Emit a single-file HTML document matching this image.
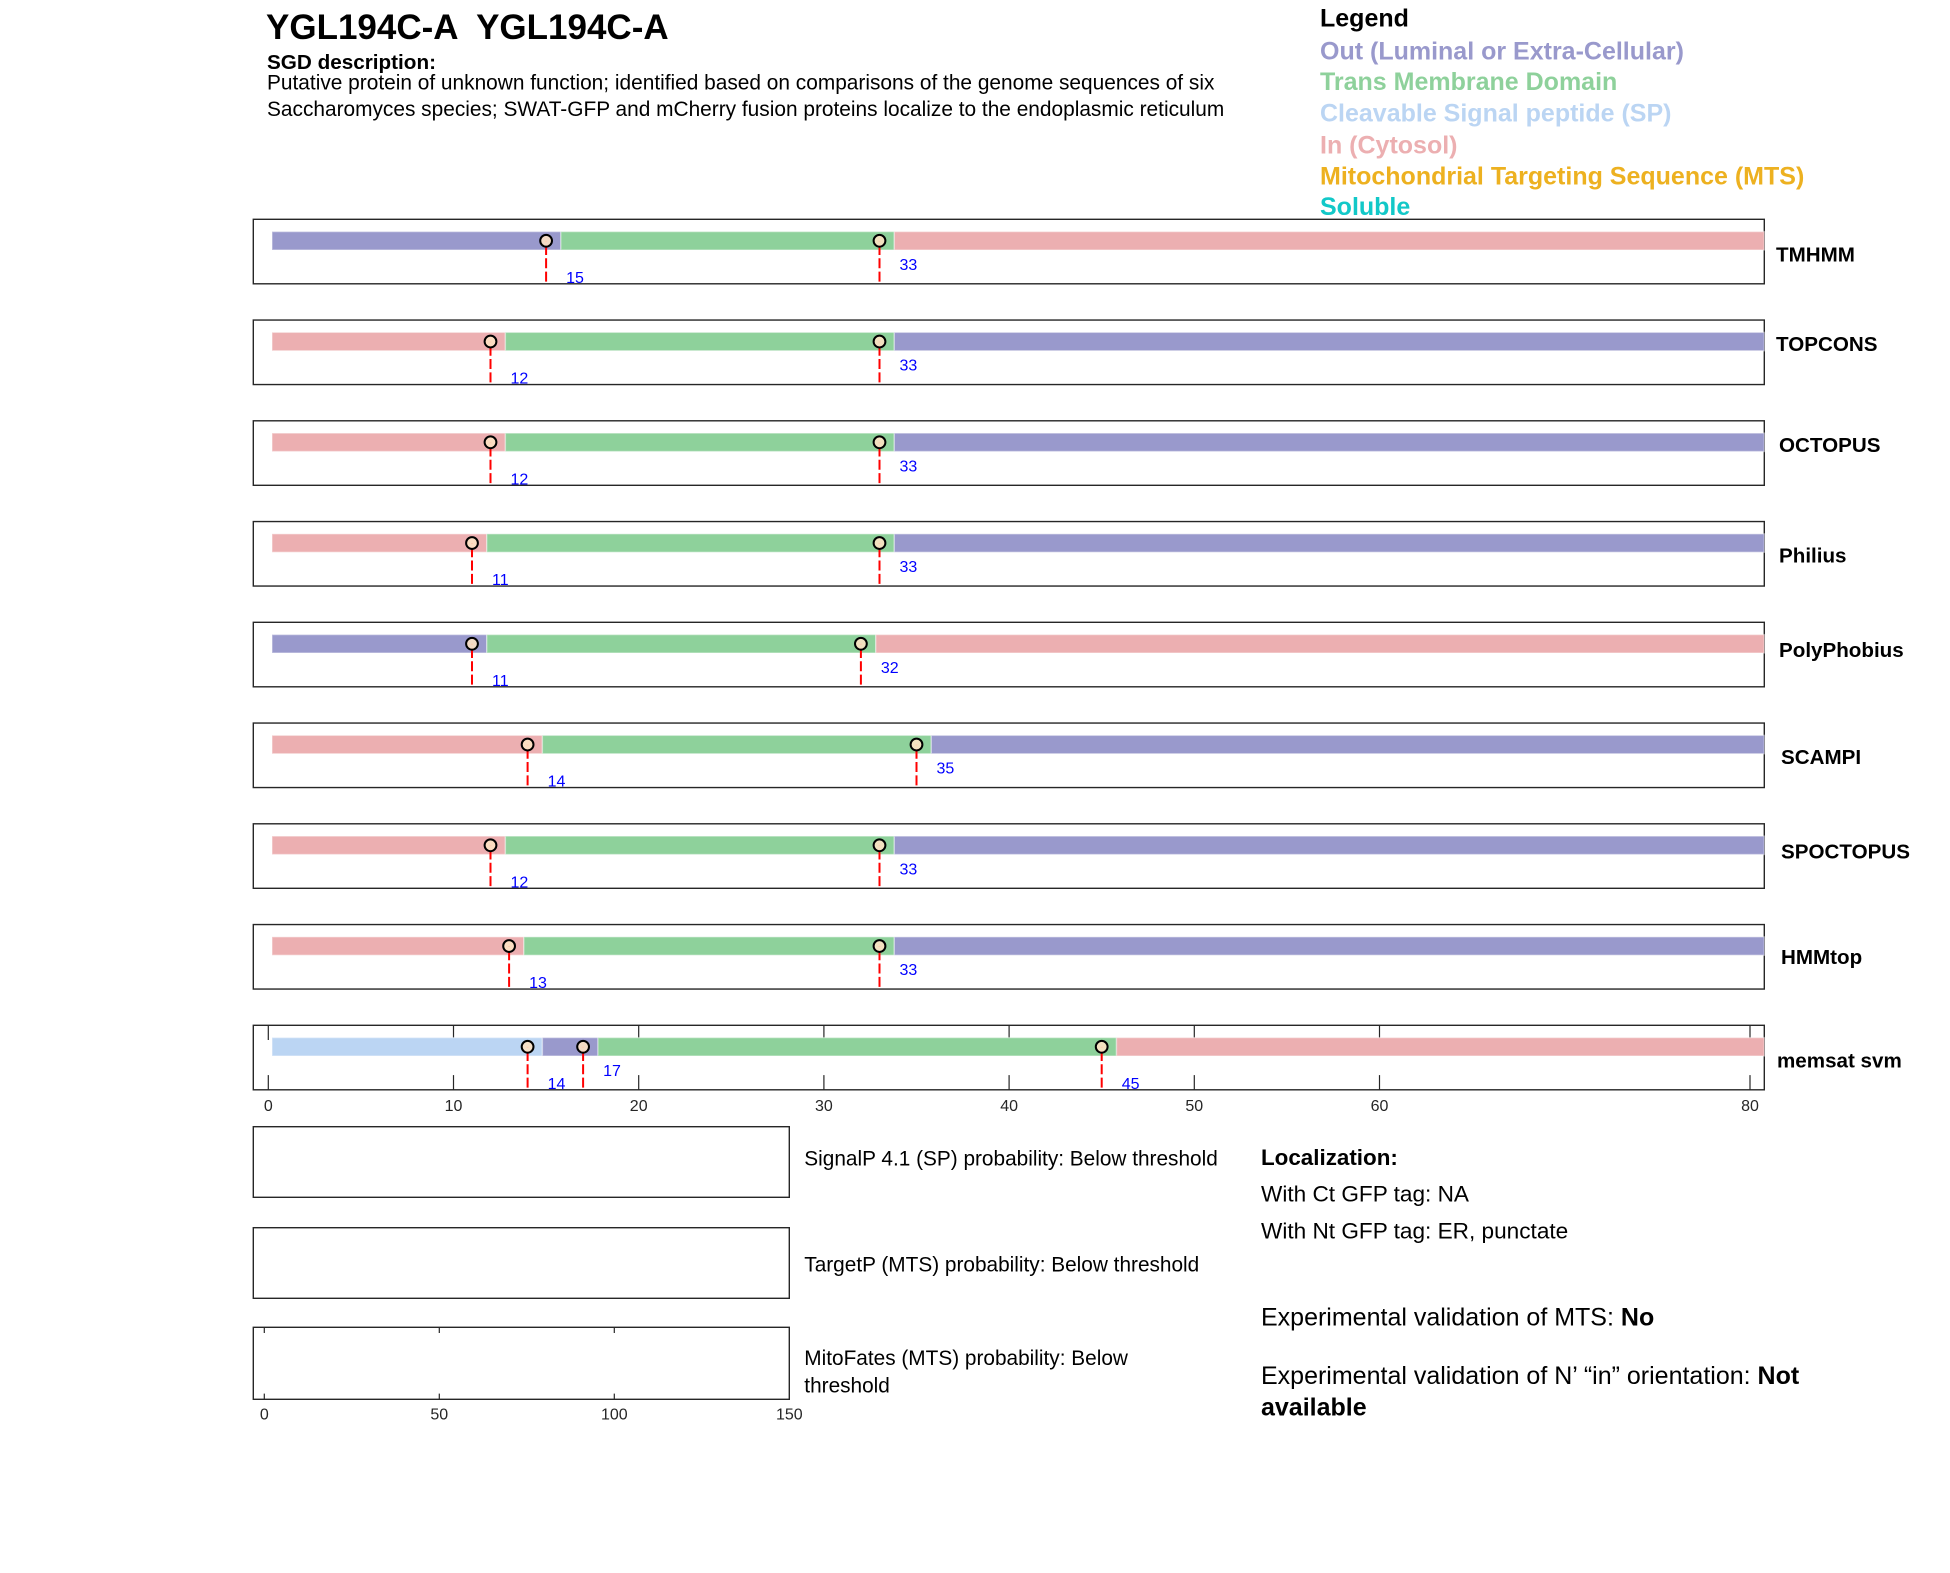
<!DOCTYPE html>
<html>
<head>
<meta charset="utf-8">
<style>
  html, body { margin: 0; padding: 0; background: #ffffff; }
  svg { display: block; }
  text { font-family: "Liberation Sans", Arial, Helvetica, sans-serif; }
</style>
</head>
<body>
<svg xmlns="http://www.w3.org/2000/svg" width="1950" height="1573" viewBox="0 0 1950 1573">
  <rect x="0" y="0" width="1950" height="1573" fill="#ffffff"/>

  <!-- Title and description -->
  <text x="266" y="39" font-size="35" font-weight="bold" fill="#000" xml:space="preserve">YGL194C-A  YGL194C-A</text>
  <text x="267" y="69" font-size="20.7" font-weight="bold" fill="#000">SGD description:</text>
  <text x="267" y="89.3" font-size="20.86" fill="#000">Putative protein of unknown function; identified based on comparisons of the genome sequences of six</text>
  <text x="267" y="116" font-size="20.86" fill="#000">Saccharomyces species; SWAT-GFP and mCherry fusion proteins localize to the endoplasmic reticulum</text>

  <!-- Legend -->
  <g font-size="25" font-weight="bold">
    <text x="1320" y="26.7" fill="#000">Legend</text>
    <text x="1320" y="59.3" fill="#9999cc">Out (Luminal or Extra-Cellular)</text>
    <text x="1320" y="90" fill="#8ed19b">Trans Membrane Domain</text>
    <text x="1320" y="121.7" fill="#bbd5f3">Cleavable Signal peptide (SP)</text>
    <text x="1320" y="153.3" fill="#ecafb1">In (Cytosol)</text>
    <text x="1320" y="184.3" fill="#edb120">Mitochondrial Targeting Sequence (MTS)</text>
    <text x="1320" y="215" fill="#12c8c8">Soluble</text>
  </g>

  <!-- TMHMM T=219.3 -->
  <g transform="translate(0,219.3)">
    <rect x="253.3" y="0" width="1511" height="64.5" fill="#fff" stroke="#262626" stroke-width="1.4"/>
    <g stroke="#ffffff" stroke-opacity="0.4" stroke-width="1.4">
      <rect x="272" y="12.3" width="288.9" height="18.4" fill="#9999cc"/>
      <rect x="560.9" y="12.3" width="333.4" height="18.4" fill="#8ed19b"/>
      <rect x="894.3" y="12.3" width="870" height="18.4" fill="#ecafb1"/>
    </g>
    <g stroke="#ff0000" stroke-width="2" stroke-dasharray="10,3.3" stroke-dashoffset="9.1">
      <line x1="546.1" y1="21.5" x2="546.1" y2="64.5"/>
      <line x1="879.5" y1="21.5" x2="879.5" y2="64.5"/>
    </g>
    <g fill="#fde2c4" fill-opacity="0.9" stroke="#000" stroke-width="2">
      <circle cx="546.1" cy="21.5" r="5.9"/>
      <circle cx="879.5" cy="21.5" r="5.9"/>
    </g>
    <g font-size="16" fill="#0000ff">
      <text x="566.1" y="63.5">15</text>
      <text x="899.5" y="50.5">33</text>
    </g>
    <text x="1776" y="42" font-size="20.6" font-weight="bold" fill="#000">TMHMM</text>
  </g>

  <!-- TOPCONS T=320.05 -->
  <g transform="translate(0,320.05)">
    <rect x="253.3" y="0" width="1511" height="64.5" fill="#fff" stroke="#262626" stroke-width="1.4"/>
    <g stroke="#ffffff" stroke-opacity="0.4" stroke-width="1.4">
      <rect x="272" y="12.3" width="233.4" height="18.4" fill="#ecafb1"/>
      <rect x="505.4" y="12.3" width="388.9" height="18.4" fill="#8ed19b"/>
      <rect x="894.3" y="12.3" width="870" height="18.4" fill="#9999cc"/>
    </g>
    <g stroke="#ff0000" stroke-width="2" stroke-dasharray="10,3.3" stroke-dashoffset="9.1">
      <line x1="490.5" y1="21.5" x2="490.5" y2="64.5"/>
      <line x1="879.5" y1="21.5" x2="879.5" y2="64.5"/>
    </g>
    <g fill="#fde2c4" fill-opacity="0.9" stroke="#000" stroke-width="2">
      <circle cx="490.5" cy="21.5" r="5.9"/>
      <circle cx="879.5" cy="21.5" r="5.9"/>
    </g>
    <g font-size="16" fill="#0000ff">
      <text x="510.5" y="63.5">12</text>
      <text x="899.5" y="50.5">33</text>
    </g>
    <text x="1776" y="31" font-size="20.6" font-weight="bold" fill="#000">TOPCONS</text>
  </g>

  <!-- OCTOPUS T=420.8 -->
  <g transform="translate(0,420.8)">
    <rect x="253.3" y="0" width="1511" height="64.5" fill="#fff" stroke="#262626" stroke-width="1.4"/>
    <g stroke="#ffffff" stroke-opacity="0.4" stroke-width="1.4">
      <rect x="272" y="12.3" width="233.4" height="18.4" fill="#ecafb1"/>
      <rect x="505.4" y="12.3" width="388.9" height="18.4" fill="#8ed19b"/>
      <rect x="894.3" y="12.3" width="870" height="18.4" fill="#9999cc"/>
    </g>
    <g stroke="#ff0000" stroke-width="2" stroke-dasharray="10,3.3" stroke-dashoffset="9.1">
      <line x1="490.5" y1="21.5" x2="490.5" y2="64.5"/>
      <line x1="879.5" y1="21.5" x2="879.5" y2="64.5"/>
    </g>
    <g fill="#fde2c4" fill-opacity="0.9" stroke="#000" stroke-width="2">
      <circle cx="490.5" cy="21.5" r="5.9"/>
      <circle cx="879.5" cy="21.5" r="5.9"/>
    </g>
    <g font-size="16" fill="#0000ff">
      <text x="510.5" y="63.5">12</text>
      <text x="899.5" y="50.5">33</text>
    </g>
    <text x="1779" y="31" font-size="20.6" font-weight="bold" fill="#000">OCTOPUS</text>
  </g>

  <!-- Philius T=521.55 -->
  <g transform="translate(0,521.55)">
    <rect x="253.3" y="0" width="1511" height="64.5" fill="#fff" stroke="#262626" stroke-width="1.4"/>
    <g stroke="#ffffff" stroke-opacity="0.4" stroke-width="1.4">
      <rect x="272" y="12.3" width="214.8" height="18.4" fill="#ecafb1"/>
      <rect x="486.8" y="12.3" width="407.5" height="18.4" fill="#8ed19b"/>
      <rect x="894.3" y="12.3" width="870" height="18.4" fill="#9999cc"/>
    </g>
    <g stroke="#ff0000" stroke-width="2" stroke-dasharray="10,3.3" stroke-dashoffset="9.1">
      <line x1="472" y1="21.5" x2="472" y2="64.5"/>
      <line x1="879.5" y1="21.5" x2="879.5" y2="64.5"/>
    </g>
    <g fill="#fde2c4" fill-opacity="0.9" stroke="#000" stroke-width="2">
      <circle cx="472" cy="21.5" r="5.9"/>
      <circle cx="879.5" cy="21.5" r="5.9"/>
    </g>
    <g font-size="16" fill="#0000ff">
      <text x="492" y="63.5">11</text>
      <text x="899.5" y="50.5">33</text>
    </g>
    <text x="1779" y="41" font-size="20.6" font-weight="bold" fill="#000">Philius</text>
  </g>

  <!-- PolyPhobius T=622.3 -->
  <g transform="translate(0,622.3)">
    <rect x="253.3" y="0" width="1511" height="64.5" fill="#fff" stroke="#262626" stroke-width="1.4"/>
    <g stroke="#ffffff" stroke-opacity="0.4" stroke-width="1.4">
      <rect x="272" y="12.3" width="214.8" height="18.4" fill="#9999cc"/>
      <rect x="486.8" y="12.3" width="389" height="18.4" fill="#8ed19b"/>
      <rect x="875.8" y="12.3" width="888.5" height="18.4" fill="#ecafb1"/>
    </g>
    <g stroke="#ff0000" stroke-width="2" stroke-dasharray="10,3.3" stroke-dashoffset="9.1">
      <line x1="472" y1="21.5" x2="472" y2="64.5"/>
      <line x1="860.9" y1="21.5" x2="860.9" y2="64.5"/>
    </g>
    <g fill="#fde2c4" fill-opacity="0.9" stroke="#000" stroke-width="2">
      <circle cx="472" cy="21.5" r="5.9"/>
      <circle cx="860.9" cy="21.5" r="5.9"/>
    </g>
    <g font-size="16" fill="#0000ff">
      <text x="492" y="63.5">11</text>
      <text x="880.9" y="50.5">32</text>
    </g>
    <text x="1779" y="34.5" font-size="20.6" font-weight="bold" fill="#000">PolyPhobius</text>
  </g>

  <!-- SCAMPI T=723.05 -->
  <g transform="translate(0,723.05)">
    <rect x="253.3" y="0" width="1511" height="64.5" fill="#fff" stroke="#262626" stroke-width="1.4"/>
    <g stroke="#ffffff" stroke-opacity="0.4" stroke-width="1.4">
      <rect x="272" y="12.3" width="270.4" height="18.4" fill="#ecafb1"/>
      <rect x="542.4" y="12.3" width="388.9" height="18.4" fill="#8ed19b"/>
      <rect x="931.3" y="12.3" width="833" height="18.4" fill="#9999cc"/>
    </g>
    <g stroke="#ff0000" stroke-width="2" stroke-dasharray="10,3.3" stroke-dashoffset="9.1">
      <line x1="527.6" y1="21.5" x2="527.6" y2="64.5"/>
      <line x1="916.5" y1="21.5" x2="916.5" y2="64.5"/>
    </g>
    <g fill="#fde2c4" fill-opacity="0.9" stroke="#000" stroke-width="2">
      <circle cx="527.6" cy="21.5" r="5.9"/>
      <circle cx="916.5" cy="21.5" r="5.9"/>
    </g>
    <g font-size="16" fill="#0000ff">
      <text x="547.6" y="63.5">14</text>
      <text x="936.5" y="50.5">35</text>
    </g>
    <text x="1781" y="41" font-size="20.6" font-weight="bold" fill="#000">SCAMPI</text>
  </g>

  <!-- SPOCTOPUS T=823.8 -->
  <g transform="translate(0,823.8)">
    <rect x="253.3" y="0" width="1511" height="64.5" fill="#fff" stroke="#262626" stroke-width="1.4"/>
    <g stroke="#ffffff" stroke-opacity="0.4" stroke-width="1.4">
      <rect x="272" y="12.3" width="233.4" height="18.4" fill="#ecafb1"/>
      <rect x="505.4" y="12.3" width="388.9" height="18.4" fill="#8ed19b"/>
      <rect x="894.3" y="12.3" width="870" height="18.4" fill="#9999cc"/>
    </g>
    <g stroke="#ff0000" stroke-width="2" stroke-dasharray="10,3.3" stroke-dashoffset="9.1">
      <line x1="490.5" y1="21.5" x2="490.5" y2="64.5"/>
      <line x1="879.5" y1="21.5" x2="879.5" y2="64.5"/>
    </g>
    <g fill="#fde2c4" fill-opacity="0.9" stroke="#000" stroke-width="2">
      <circle cx="490.5" cy="21.5" r="5.9"/>
      <circle cx="879.5" cy="21.5" r="5.9"/>
    </g>
    <g font-size="16" fill="#0000ff">
      <text x="510.5" y="63.5">12</text>
      <text x="899.5" y="50.5">33</text>
    </g>
    <text x="1781" y="34.5" font-size="20.6" font-weight="bold" fill="#000">SPOCTOPUS</text>
  </g>

  <!-- HMMtop T=924.55 -->
  <g transform="translate(0,924.55)">
    <rect x="253.3" y="0" width="1511" height="64.5" fill="#fff" stroke="#262626" stroke-width="1.4"/>
    <g stroke="#ffffff" stroke-opacity="0.4" stroke-width="1.4">
      <rect x="272" y="12.3" width="251.9" height="18.4" fill="#ecafb1"/>
      <rect x="523.9" y="12.3" width="370.4" height="18.4" fill="#8ed19b"/>
      <rect x="894.3" y="12.3" width="870" height="18.4" fill="#9999cc"/>
    </g>
    <g stroke="#ff0000" stroke-width="2" stroke-dasharray="10,3.3" stroke-dashoffset="9.1">
      <line x1="509.1" y1="21.5" x2="509.1" y2="64.5"/>
      <line x1="879.5" y1="21.5" x2="879.5" y2="64.5"/>
    </g>
    <g fill="#fde2c4" fill-opacity="0.9" stroke="#000" stroke-width="2">
      <circle cx="509.1" cy="21.5" r="5.9"/>
      <circle cx="879.5" cy="21.5" r="5.9"/>
    </g>
    <g font-size="16" fill="#0000ff">
      <text x="529.1" y="63.5">13</text>
      <text x="899.5" y="50.5">33</text>
    </g>
    <text x="1781" y="39.5" font-size="20.6" font-weight="bold" fill="#000">HMMtop</text>
  </g>

  <!-- memsat svm T=1025.3 -->
  <g transform="translate(0,1025.3)">
    <rect x="253.3" y="0" width="1511" height="64.5" fill="#fff" stroke="#262626" stroke-width="1.4"/>
    <g stroke="#262626" stroke-width="1.2">
      <line x1="268.3" y1="0" x2="268.3" y2="14.7"/><line x1="268.3" y1="49.8" x2="268.3" y2="64.5"/>
      <line x1="453.5" y1="0" x2="453.5" y2="14.7"/><line x1="453.5" y1="49.8" x2="453.5" y2="64.5"/>
      <line x1="638.7" y1="0" x2="638.7" y2="14.7"/><line x1="638.7" y1="49.8" x2="638.7" y2="64.5"/>
      <line x1="823.9" y1="0" x2="823.9" y2="14.7"/><line x1="823.9" y1="49.8" x2="823.9" y2="64.5"/>
      <line x1="1009.1" y1="0" x2="1009.1" y2="14.7"/><line x1="1009.1" y1="49.8" x2="1009.1" y2="64.5"/>
      <line x1="1194.3" y1="0" x2="1194.3" y2="14.7"/><line x1="1194.3" y1="49.8" x2="1194.3" y2="64.5"/>
      <line x1="1379.5" y1="0" x2="1379.5" y2="14.7"/><line x1="1379.5" y1="49.8" x2="1379.5" y2="64.5"/>
      <line x1="1750" y1="0" x2="1750" y2="14.7"/><line x1="1750" y1="49.8" x2="1750" y2="64.5"/>
    </g>
    <g stroke="#ffffff" stroke-opacity="0.4" stroke-width="1.4">
      <rect x="272" y="12.3" width="270.4" height="18.4" fill="#bbd5f3"/>
      <rect x="542.4" y="12.3" width="55.6" height="18.4" fill="#9999cc"/>
      <rect x="598" y="12.3" width="518.5" height="18.4" fill="#8ed19b"/>
      <rect x="1116.5" y="12.3" width="647.8" height="18.4" fill="#ecafb1"/>
    </g>
    <g stroke="#ff0000" stroke-width="2" stroke-dasharray="10,3.3" stroke-dashoffset="9.1">
      <line x1="527.6" y1="21.5" x2="527.6" y2="64.5"/>
      <line x1="583.1" y1="21.5" x2="583.1" y2="64.5"/>
      <line x1="1101.7" y1="21.5" x2="1101.7" y2="64.5"/>
    </g>
    <g fill="#fde2c4" fill-opacity="0.9" stroke="#000" stroke-width="2">
      <circle cx="527.6" cy="21.5" r="5.9"/>
      <circle cx="583.1" cy="21.5" r="5.9"/>
      <circle cx="1101.7" cy="21.5" r="5.9"/>
    </g>
    <g font-size="16" fill="#0000ff">
      <text x="547.6" y="63.5">14</text>
      <text x="603.1" y="50.5">17</text>
      <text x="1121.7" y="63.5">45</text>
    </g>
    <text x="1777" y="42" font-size="20.6" font-weight="bold" fill="#000">memsat svm</text>
    <g font-size="16" fill="#262626" text-anchor="middle">
      <text x="268.3" y="85.7">0</text>
      <text x="453.5" y="85.7">10</text>
      <text x="638.7" y="85.7">20</text>
      <text x="823.9" y="85.7">30</text>
      <text x="1009.1" y="85.7">40</text>
      <text x="1194.3" y="85.7">50</text>
      <text x="1379.5" y="85.7">60</text>
      <text x="1750" y="85.7">80</text>
    </g>
  </g>

  <!-- Bottom boxes -->
  <rect x="253.3" y="1126.7" width="536" height="70.6" fill="#fff" stroke="#262626" stroke-width="1.4"/>
  <rect x="253.3" y="1227.7" width="536" height="70.6" fill="#fff" stroke="#262626" stroke-width="1.4"/>
  <rect x="253.3" y="1327.3" width="536" height="72" fill="#fff" stroke="#262626" stroke-width="1.4"/>
  <g stroke="#262626" stroke-width="1.2">
    <line x1="264.3" y1="1327.3" x2="264.3" y2="1333"/><line x1="264.3" y1="1393.6" x2="264.3" y2="1399.3"/>
    <line x1="439.3" y1="1327.3" x2="439.3" y2="1333"/><line x1="439.3" y1="1393.6" x2="439.3" y2="1399.3"/>
    <line x1="614.3" y1="1327.3" x2="614.3" y2="1333"/><line x1="614.3" y1="1393.6" x2="614.3" y2="1399.3"/>
  </g>
  <g font-size="16" fill="#262626" text-anchor="middle">
    <text x="264.3" y="1419.7">0</text>
    <text x="439.3" y="1419.7">50</text>
    <text x="614.3" y="1419.7">100</text>
    <text x="789.3" y="1419.7">150</text>
  </g>

  <g font-size="20.8" fill="#000">
    <text x="804.3" y="1165.7">SignalP 4.1 (SP) probability: Below threshold</text>
    <text x="804.3" y="1271.7">TargetP (MTS) probability: Below threshold</text>
    <text x="804.3" y="1365">MitoFates (MTS) probability: Below</text>
    <text x="804.3" y="1392.3">threshold</text>
  </g>

  <!-- Localization -->
  <text x="1261" y="1165" font-size="22.4" font-weight="bold" fill="#000">Localization:</text>
  <text x="1261" y="1201.7" font-size="22.6" fill="#000">With Ct GFP tag: NA</text>
  <text x="1261" y="1238.3" font-size="22.6" fill="#000">With Nt GFP tag: ER, punctate</text>

  <text x="1261" y="1325.3" font-size="25" fill="#000">Experimental validation of MTS: <tspan font-weight="bold">No</tspan></text>
  <text x="1261" y="1384" font-size="25" fill="#000">Experimental validation of N’ “in” orientation: <tspan font-weight="bold">Not</tspan></text>
  <text x="1261" y="1415.5" font-size="25" font-weight="bold" fill="#000">available</text>
</svg>
</body>
</html>
